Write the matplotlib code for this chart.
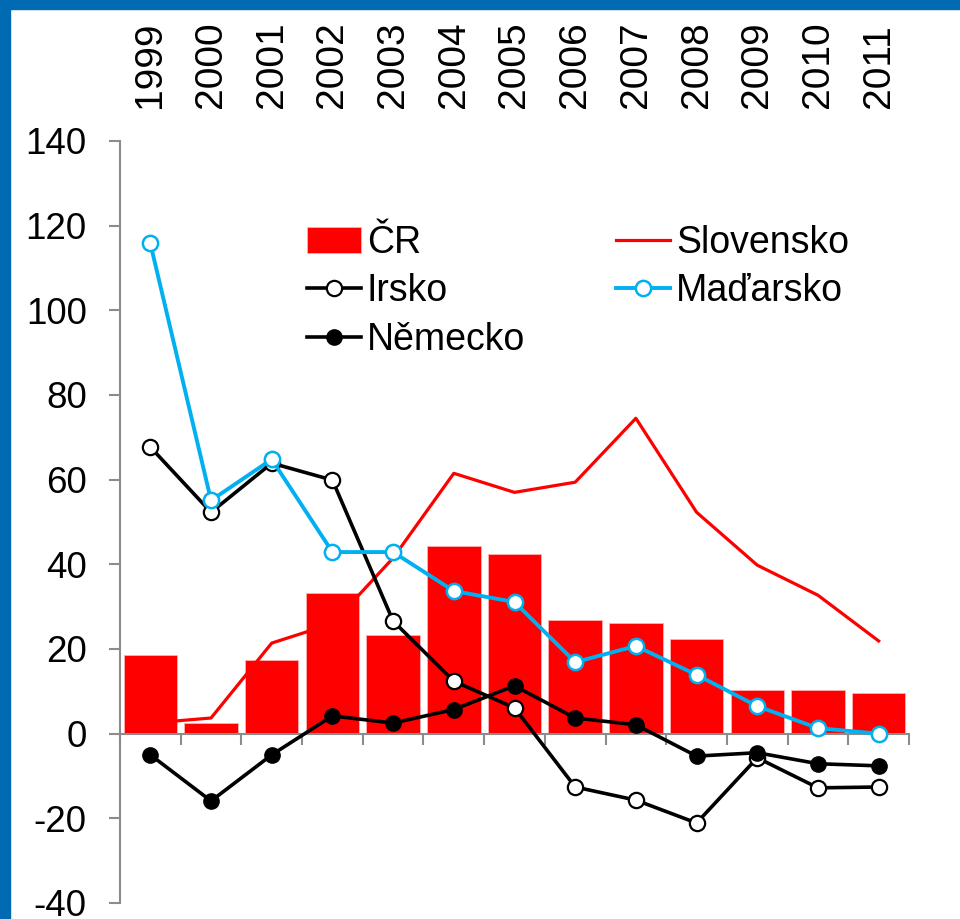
import matplotlib.pyplot as plt
from matplotlib.patches import Rectangle

plt.rcParams['font.family'] = ['Liberation Sans', 'DejaVu Sans']
plt.rcParams['axes.unicode_minus'] = False

# Data
years = ['1999', '2000', '2001', '2002', '2003', '2004', '2005',
         '2006', '2007', '2008', '2009', '2010', '2011']
cr = [18.5, 2.5, 17.4, 33.2, 23.3, 44.3, 42.4, 26.8, 26.1, 22.3, 10.3, 10.3, 9.6]
slovensko = [2.5, 3.7, 21.4, 26.0, 41.5, 61.5, 57.0, 59.4, 74.5, 52.3, 39.8, 32.7, 21.9]
irsko = [67.7, 52.3, 63.9, 59.9, 26.6, 12.4, 6.1, -12.6, -15.7, -21.1, -5.7, -12.8, -12.6]
madarsko = [115.8, 55.1, 64.8, 42.9, 42.9, 33.7, 31.1, 16.9, 20.7, 13.9, 6.5, 1.3, 0.0]
nemecko = [-5.0, -15.9, -5.0, 4.2, 2.5, 5.7, 11.3, 3.7, 2.1, -5.3, -4.5, -7.1, -7.6]

x = list(range(len(years)))
red = '#FF0000'
cyan = '#00B0F0'
grey = '#8C8C8C'

fig = plt.figure(figsize=(9.6, 9.19), dpi=100)

# blue frame on top and left
fig.patches.append(Rectangle((0, 0), 10 / 960, 1, transform=fig.transFigure,
                             color='#006AB2', zorder=0))
fig.patches.append(Rectangle((0, 1 - 9 / 919), 1, 9 / 919, transform=fig.transFigure,
                             color='#006AB2', zorder=0))

ax = fig.add_axes([120 / 960, 16 / 919, 789 / 960, 762 / 919])

ax.bar(x, cr, width=0.88, color=red, edgecolor='#FFB0B0', linewidth=0.6,
       label='ČR', zorder=2)
ax.plot(x, slovensko, color=red, lw=2.3, label='Slovensko', zorder=3)
ax.plot(x, irsko, color='black', lw=2.6, marker='o', ms=11, mfc='white',
        mec='black', mew=1.6, label='Irsko', zorder=4)
ax.plot(x, nemecko, color='black', lw=2.6, marker='o', ms=11, mfc='black',
        mec='black', label='Německo', zorder=5)
ax.plot(x, madarsko, color=cyan, lw=2.8, marker='o', ms=11, mfc='white',
        mec=cyan, mew=1.8, label='Maďarsko', zorder=6)

ax.set_xlim(-0.5, 12.5)
ax.set_ylim(-40, 140)
ax.set_yticks(range(-40, 141, 20))

ax.spines['top'].set_visible(False)
ax.spines['right'].set_visible(False)
ax.spines['bottom'].set_position(('data', 0))
for s in ('left', 'bottom'):
    ax.spines[s].set_color(grey)
    ax.spines[s].set_linewidth(1.5)

ax.set_xticks([i - 0.5 for i in range(len(years) + 1)])
ax.set_xticklabels([])
ax.tick_params(axis='x', direction='out', length=8, width=1.5, color=grey)
ax.tick_params(axis='y', direction='out', length=8, width=1.5, color=grey,
               labelsize=26.5, pad=16)

# year labels along the top
top = ax.secondary_xaxis('top')
top.set_xticks(x)
top.set_xticklabels(years, rotation=90, fontsize=28)
top.tick_params(length=0, pad=24)
top.spines['top'].set_visible(False)

handles, labels = ax.get_legend_handles_labels()
order = ['ČR', 'Irsko', 'Německo', 'Slovensko', 'Maďarsko']
hmap = dict(zip(labels, handles))
ax.legend([hmap[k] for k in order], order, ncol=2, frameon=False, fontsize=27,
          loc='upper left', bbox_to_anchor=(307 / 960, 1 - 225 / 919),
          bbox_transform=fig.transFigure, handlelength=1.45, handletextpad=0.15,
          labelspacing=0.33, columnspacing=2.42, borderaxespad=0, borderpad=0)

fig.savefig('out.png', dpi=100)
